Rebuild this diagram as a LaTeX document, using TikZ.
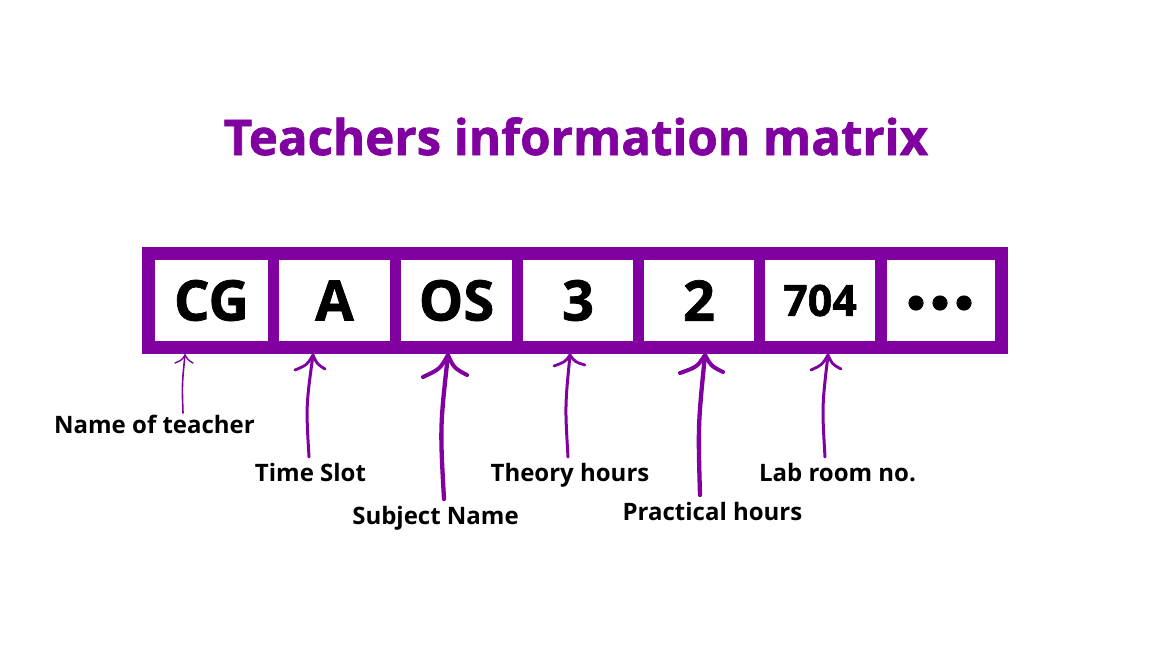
\documentclass[tikz,border=0pt]{standalone}
\usepackage{fontspec}
\setmainfont{Open Sans}
\newfontfamily\xb{Open Sans}[BoldFeatures={FakeBold=1.3}]
\definecolor{pur}{RGB}{128,0,160}
\begin{document}
\begin{tikzpicture}[x=1pt,y=-1pt,
  cell/.style={fill=white,draw=none,inner sep=0pt,minimum width=111pt,minimum height=81pt,
    font=\fontsize{56}{60}\selectfont\xb\bfseries,text=black},
  lbl/.style={anchor=base,inner sep=0pt,font=\fontsize{24}{28}\selectfont\bfseries,text=black},
  arr/.style={draw=pur,line cap=round,line join=round}]
\useasboundingbox (0,0) rectangle (1151,649);
\fill[white] (0,0) rectangle (1151,649);
% title
\node[anchor=base,inner sep=0pt,font=\fontsize{49.2}{53}\selectfont\xb\bfseries,text=pur] (title) at (576,155) {Teachers information matrix};
% frame
\fill[pur] (142,247) rectangle (1008,354);
\node[cell,minimum width=113pt] (c1) at (211.5,300.5) {CG};
\node[cell] (c2) at (334.5,300.5) {A};
\node[cell] (c3) at (456.5,300.5) {OS};
\node[cell,minimum width=110pt] (c4) at (578,300.5) {3};
\node[cell,minimum width=110pt] (c5) at (699,300.5) {2};
\node[cell,minimum width=110pt,font=\fontsize{43}{48}\selectfont\xb\bfseries] (c6) at (820,300.5) {704};
\node[cell,minimum width=108pt] (c7) at (941,300.5) {};
\fill[black] (916,303) circle (7.6) (940,303) circle (7.6) (964,303) circle (7.6);
% labels
\node[lbl] (l1) at (154.5,433) {Name of teacher};
\node[lbl] (l2) at (310.5,481) {Time Slot};
\node[lbl] (l3) at (435.5,524) {Subject Name};
\node[lbl] (l4) at (570,481) {Theory hours};
\node[lbl] (l5) at (712.5,520) {Practical hours};
\node[lbl] (l6) at (837.5,481) {Lab room no.};
% arrow ends
\coordinate (t1) at (185,355); \coordinate (b1) at (183,413);
\coordinate (t2) at (313,355); \coordinate (b2) at (309,457);
\coordinate (t3) at (448,355); \coordinate (b3) at (444,499);
\coordinate (t4) at (570,355); \coordinate (b4) at (568,457);
\coordinate (t5) at (705,355); \coordinate (b5) at (700,495);
\coordinate (t6) at (828,355); \coordinate (b6) at (825,457);
% arrows
\draw[arr,line width=1.6pt] (b1) .. controls (182,384) .. (t1);
\draw[arr,line width=1.4pt] (t1) .. controls +(-3,5) .. +(-10,8);
\draw[arr,line width=1.4pt] (t1) .. controls +(3,5) .. +(8,8);

\draw[arr,line width=3pt] (b2) .. controls (306,406) .. (t2);
\draw[arr,line width=2.8pt] (t2) .. controls +(-6,10) .. +(-18,15);
\draw[arr,line width=2.8pt] (t2) .. controls +(4,9) .. +(12,14);

\draw[arr,line width=4.3pt] (b3) .. controls (440,427) .. (t3);
\draw[arr,line width=4pt] (t3) .. controls +(-8,14) .. +(-25,22);
\draw[arr,line width=4pt] (t3) .. controls +(6,13) .. +(19,20);

\draw[arr,line width=3pt] (b4) .. controls (565,406) .. (t4);
\draw[arr,line width=2.8pt] (t4) .. controls +(-5,7) .. +(-16,11);
\draw[arr,line width=2.8pt] (t4) .. controls +(5,7) .. +(15,10);

\draw[arr,line width=4.3pt] (b5) .. controls (698,425) .. (t5);
\draw[arr,line width=4pt] (t5) .. controls +(-8,12) .. +(-25,18);
\draw[arr,line width=4pt] (t5) .. controls +(6,11) .. +(18,17);

\draw[arr,line width=3pt] (b6) .. controls (822,406) .. (t6);
\draw[arr,line width=2.8pt] (t6) .. controls +(-6,10) .. +(-17,15);
\draw[arr,line width=2.8pt] (t6) .. controls +(4,9) .. +(13,14);
\end{tikzpicture}
\end{document}
